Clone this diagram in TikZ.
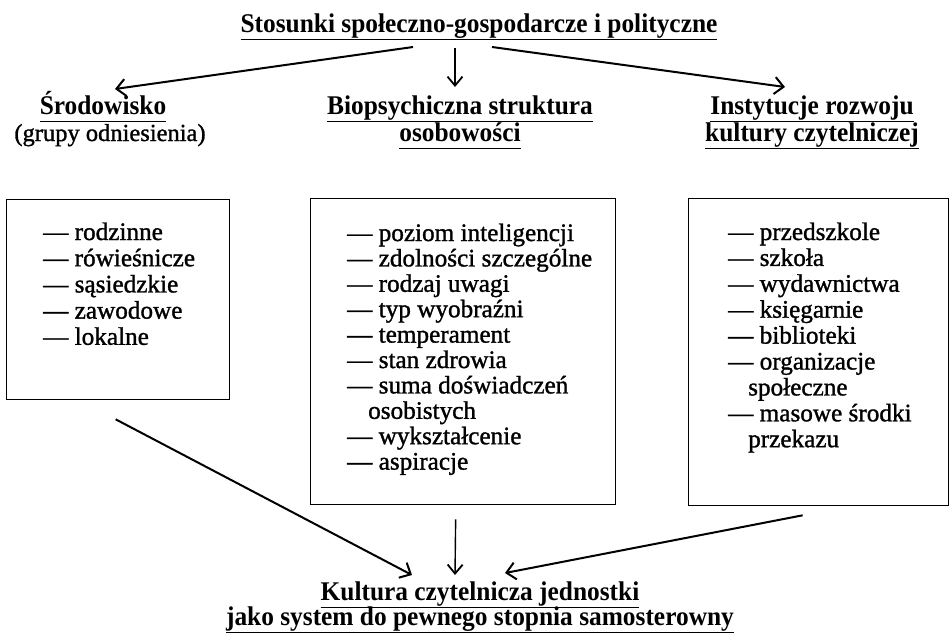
\documentclass[tikz,border=0pt]{standalone}
\usepackage{fontspec}
\setmainfont{Liberation Serif}
\newfontfamily\itemfont[FakeBold=1.2]{Liberation Serif}
\newfontfamily\headfont[FakeStretch=0.94]{Liberation Serif}
\usetikzlibrary{arrows.meta,calc}
\newcommand\hul[1]{\underline{#1\vphantom{gjpy}}}
\begin{document}
\begin{tikzpicture}[x=1pt,y=-1pt,
  head/.style={font=\headfont\fontsize{27}{27}\selectfont\bfseries, inner sep=0pt, anchor=base},
  sub/.style={font=\itemfont\fontsize{24.5}{26}\selectfont, inner sep=0pt, anchor=base},
  item/.style={font=\itemfont\fontsize{25.2}{26}\selectfont, inner sep=0pt, anchor=base west},
  boxst/.style={draw, line width=1.3pt, inner sep=0pt, anchor=north west},
  arr/.style={line width=2pt, -{Straight Barb[length=9pt,width=17pt,line width=2pt]}},
  arrthin/.style={line width=1.4pt, -{Straight Barb[length=9pt,width=15pt,line width=1.8pt]}},
  ]
\useasboundingbox[fill=white] (0,0) rectangle (949,635);

\node[head] (title) at (479,32) {\hul{Stosunki społeczno-gospodarcze i polityczne}};

\node[head] (h1) at (103,114) {\hul{Środowisko}};
\node[sub] (h1b) at (110,141) {(grupy odniesienia)};
\node[head] (h2) at (460,114) {\hul{Biopsychiczna struktura}};
\node[head] (h2b) at (460,141) {\hul{osobowości}};
\node[head] (h3) at (812,114) {\hul{Instytucje rozwoju}};
\node[head] (h3b) at (812,141) {\hul{kultury czytelniczej}};

\node[boxst, minimum width=223pt, minimum height=200pt] (b1) at (6,199) {};
\node[boxst, minimum width=305pt, minimum height=306pt] (b2) at (310,198) {};
\node[boxst, minimum width=260pt, minimum height=307pt] (b3) at (688,198) {};

\foreach \t [count=\i] in {— rodzinne, — rówieśnicze, — sąsiedzkie, — zawodowe, — lokalne}
  \node[item] (a\i) at (43,{240+26.2*(\i-1)}) {\t};

\foreach \t [count=\i] in {— poziom inteligencji, — zdolności szczególne, — rodzaj uwagi, — typ wyobraźni, — temperament, — stan zdrowia, — suma doświadczeń, \hspace*{21pt}osobistych, — wykształcenie, — aspiracje}
  \node[item] (m\i) at (347,{241+25.4*(\i-1)}) {\t};

\foreach \t [count=\i] in {— przedszkole, — szkoła, — wydawnictwa, — księgarnie, — biblioteki, — organizacje, \hspace*{20pt}społeczne, — masowe środki, \hspace*{20pt}przekazu}
  \node[item] (r\i) at (728,{240+25.9*(\i-1)}) {\t};

\node[head] (k1) at (480,600) {\hul{Kultura czytelnicza jednostki}};
\node[head] (k2) at (480,625) {\hul{jako system do pewnego stopnia samosterowny}};

\draw[arr] ($(title.base)+(-66,15)$) -- ($(h1.base)+(12,-25)$);
\draw[arrthin] ($(title.base)+(-24,16)$) -- ($(h2.base)+(-5,-27)$);
\draw[arr] ($(title.base)+(13,15)$) -- ($(h3.base)+(-27,-27)$);

\draw[arr] ($(b1.south)+(-2.5,19)$) -- ($(k1.base)+(-68,-25)$);
\draw[arrthin] ($(b2.south)+(-7.5,14)$) -- ($(k1.base)+(-25,-25)$);
\draw[arr] ($(b3.south)+(-16,9)$) -- ($(k1.base)+(25,-27)$);
\end{tikzpicture}
\end{document}
